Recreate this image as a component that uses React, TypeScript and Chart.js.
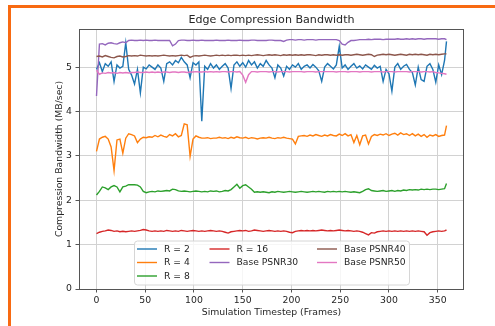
import { useEffect, useRef } from "react";
import { Chart, registerables } from "chart.js";

Chart.register(...registerables);

// Frame index for each sample (every 3rd frame, plus the last frame 359)
const frames: number[] = [...Array.from({ length: 120 }, (_, i) => i * 3), 359];

const r2: number[] = [
  4.95, 5.1, 4.9, 5.08, 5.02, 5.12, 4.68, 5.05, 4.98, 5.02,
  5.55, 4.95, 4.82, 4.62, 4.95, 4.42, 5.0, 4.96, 5.05, 5.0,
  4.95, 5.05, 4.98, 4.68, 5.08, 5.12, 5.05, 5.15, 5.1, 5.22,
  5.12, 5.05, 4.76, 5.1, 5.05, 5.12, 3.78, 5.02, 4.95, 5.08,
  4.98, 5.05, 4.95, 5.02, 5.08, 4.98, 4.52, 5.05, 5.12, 5.02,
  5.1, 5.0, 5.15, 5.05, 5.12, 4.98, 5.08, 5.02, 5.15, 5.05,
  4.98, 4.76, 5.05, 4.98, 4.8, 5.02, 4.95, 5.05, 5.0, 5.08,
  4.95, 5.02, 5.05, 4.98, 5.06, 5.0, 4.92, 4.68, 5.0, 5.08,
  5.02, 4.96, 5.05, 5.47, 4.98, 5.05, 4.95, 5.02, 5.08, 4.98,
  5.03, 4.96, 5.05, 5.0, 4.95, 5.04, 4.98, 5.02, 4.68, 4.95,
  4.85, 4.46, 5.0, 5.08, 4.95, 5.02, 5.06, 4.95, 4.88, 4.6,
  5.0, 4.72, 4.68, 5.02, 5.08, 4.95, 4.66, 5.05, 4.83, 5.15,
  5.58,
];

const r4: number[] = [
  3.1, 3.38, 3.42, 3.44, 3.38, 3.2, 2.67, 3.36, 3.38, 3.06,
  3.4, 3.5, 3.48, 3.45, 3.3, 3.38, 3.42, 3.41, 3.43, 3.42,
  3.46, 3.43, 3.47, 3.44, 3.42, 3.48, 3.45, 3.5, 3.43, 3.46,
  3.72, 3.7, 2.99, 3.38, 3.45, 3.42, 3.4, 3.4, 3.41, 3.39,
  3.4, 3.4, 3.42, 3.4, 3.41, 3.39, 3.42, 3.4, 3.43, 3.41,
  3.4, 3.42, 3.39, 3.41, 3.4, 3.38, 3.4, 3.41, 3.4, 3.42,
  3.4, 3.39, 3.41, 3.4, 3.42, 3.4, 3.39, 3.38, 3.27, 3.44,
  3.45, 3.46, 3.44, 3.47, 3.45, 3.48, 3.46, 3.44, 3.47, 3.45,
  3.48, 3.46, 3.45, 3.49, 3.46, 3.5, 3.45, 3.48, 3.3, 3.46,
  3.25, 3.45, 3.47, 3.27, 3.44, 3.48, 3.46, 3.49, 3.47, 3.5,
  3.46, 3.49, 3.51, 3.47, 3.52, 3.48, 3.5, 3.46, 3.5, 3.45,
  3.49, 3.44, 3.48, 3.42, 3.47, 3.45, 3.48, 3.44, 3.46, 3.47,
  3.68,
];

const r8: number[] = [
  2.12, 2.2, 2.3, 2.28, 2.24, 2.3, 2.33, 2.3, 2.19, 2.3,
  2.32, 2.35, 2.35, 2.35, 2.34, 2.3, 2.2, 2.17, 2.19, 2.2,
  2.19, 2.21, 2.2, 2.21, 2.22, 2.21, 2.25, 2.24, 2.21, 2.2,
  2.21, 2.2, 2.19, 2.2, 2.21, 2.2, 2.19, 2.2, 2.19, 2.21,
  2.2, 2.21, 2.19, 2.2, 2.22, 2.21, 2.24, 2.3, 2.36, 2.27,
  2.33, 2.35, 2.3, 2.25, 2.18, 2.19, 2.18, 2.19, 2.18, 2.17,
  2.19, 2.18, 2.2, 2.19, 2.18, 2.19, 2.2, 2.19, 2.18, 2.19,
  2.2, 2.19, 2.18, 2.19, 2.2, 2.19, 2.2, 2.19, 2.18, 2.2,
  2.19, 2.2, 2.19, 2.2, 2.19, 2.2, 2.19, 2.18, 2.19, 2.18,
  2.17, 2.2, 2.24, 2.26, 2.22, 2.21, 2.2, 2.21, 2.22, 2.2,
  2.21, 2.22, 2.2, 2.22, 2.21, 2.23, 2.22, 2.24, 2.23, 2.24,
  2.23, 2.25, 2.24, 2.25, 2.24, 2.25, 2.25, 2.24, 2.25, 2.26,
  2.38,
];

const r16: number[] = [
  1.25, 1.28, 1.3, 1.31, 1.33, 1.32, 1.3, 1.31, 1.29, 1.3,
  1.29, 1.3, 1.31, 1.3, 1.31, 1.32, 1.34, 1.33, 1.31, 1.3,
  1.31, 1.3, 1.31, 1.3, 1.32, 1.31, 1.3, 1.31, 1.3, 1.32,
  1.31, 1.3, 1.31, 1.32, 1.31, 1.3, 1.31, 1.3, 1.31, 1.32,
  1.31, 1.3, 1.31, 1.3, 1.28, 1.26, 1.29, 1.3, 1.31, 1.32,
  1.31, 1.32, 1.3, 1.31, 1.33, 1.32, 1.31, 1.3, 1.31, 1.32,
  1.31, 1.3, 1.31, 1.3, 1.31, 1.3, 1.28, 1.27, 1.3, 1.31,
  1.32, 1.31, 1.32, 1.31, 1.32, 1.31, 1.32, 1.33, 1.32, 1.31,
  1.32, 1.31, 1.32, 1.33, 1.32, 1.31, 1.32, 1.31, 1.3, 1.31,
  1.3, 1.28, 1.25, 1.22, 1.27, 1.26, 1.29, 1.3, 1.31, 1.3,
  1.31, 1.3, 1.31, 1.3, 1.31, 1.3, 1.31, 1.3, 1.31, 1.3,
  1.31, 1.3, 1.29, 1.21, 1.27, 1.29, 1.3, 1.31, 1.3, 1.31,
  1.33,
];

const psnr30: number[] = [
  4.35, 5.52, 5.53, 5.5, 5.54, 5.55, 5.53, 5.52, 5.55, 5.57,
  5.55, 5.6, 5.61, 5.6, 5.6, 5.61, 5.6, 5.61, 5.6, 5.6,
  5.61, 5.6, 5.6, 5.6, 5.6, 5.6, 5.48, 5.52, 5.6, 5.61,
  5.61, 5.6, 5.6, 5.61, 5.6, 5.6, 5.61, 5.6, 5.6, 5.6,
  5.6, 5.61, 5.6, 5.6, 5.6, 5.61, 5.6, 5.6, 5.6, 5.61,
  5.6, 5.6, 5.6, 5.61, 5.61, 5.6, 5.6, 5.6, 5.6, 5.61,
  5.61, 5.6, 5.6, 5.6, 5.58, 5.61, 5.62, 5.62, 5.61, 5.62,
  5.62, 5.61, 5.62, 5.62, 5.62, 5.61, 5.62, 5.62, 5.62, 5.62,
  5.62, 5.62, 5.62, 5.6, 5.52, 5.5, 5.56, 5.6, 5.6, 5.61,
  5.62, 5.62, 5.62, 5.63, 5.62, 5.63, 5.63, 5.63, 5.62, 5.63,
  5.63, 5.63, 5.63, 5.64, 5.63, 5.63, 5.64, 5.63, 5.64, 5.63,
  5.64, 5.64, 5.63, 5.64, 5.64, 5.64, 5.64, 5.63, 5.64, 5.64,
  5.62,
];

const psnr40: number[] = [
  5.24, 5.25, 5.23, 5.26, 5.24, 5.22, 5.21, 5.24, 5.25, 5.23,
  5.24, 5.26, 5.25, 5.26, 5.25, 5.27, 5.26, 5.25, 5.26, 5.25,
  5.26, 5.25, 5.26, 5.27, 5.26, 5.25, 5.26, 5.25, 5.26, 5.27,
  5.26, 5.27, 5.22, 5.25, 5.26, 5.25, 5.26, 5.27, 5.26, 5.25,
  5.26, 5.27, 5.26, 5.27, 5.26, 5.27, 5.26, 5.27, 5.27, 5.26,
  5.27, 5.26, 5.27, 5.26, 5.27, 5.28, 5.27, 5.26, 5.27, 5.28,
  5.27, 5.28, 5.27, 5.26, 5.28, 5.27, 5.28, 5.27, 5.28, 5.27,
  5.28, 5.27, 5.28, 5.28, 5.27, 5.26, 5.28, 5.27, 5.28, 5.28,
  5.27, 5.28, 5.27, 5.28, 5.27, 5.28, 5.28, 5.27, 5.28, 5.29,
  5.28, 5.27, 5.28, 5.29, 5.28, 5.24, 5.27, 5.28, 5.29, 5.28,
  5.29, 5.28, 5.27, 5.28, 5.29, 5.28, 5.27, 5.29, 5.28, 5.29,
  5.28, 5.29, 5.28, 5.27, 5.29, 5.28, 5.29, 5.28, 5.29, 5.3,
  5.3,
];

const psnr50: number[] = [
  4.93, 4.84, 4.87, 4.86, 4.88, 4.87, 4.88, 4.86, 4.88, 4.87,
  4.88, 4.87, 4.88, 4.88, 4.89, 4.88, 4.88, 4.89, 4.88, 4.89,
  4.88, 4.89, 4.88, 4.89, 4.89, 4.88, 4.89, 4.89, 4.88, 4.89,
  4.89, 4.88, 4.89, 4.89, 4.9, 4.89, 4.89, 4.9, 4.89, 4.9,
  4.89, 4.9, 4.89, 4.9, 4.9, 4.89, 4.9, 4.9, 4.89, 4.9,
  4.82, 4.66, 4.83, 4.9, 4.9, 4.89, 4.9, 4.9, 4.9, 4.89,
  4.9, 4.9, 4.89, 4.9, 4.9, 4.9, 4.89, 4.9, 4.9, 4.9,
  4.9, 4.89, 4.9, 4.9, 4.9, 4.89, 4.9, 4.9, 4.9, 4.9,
  4.9, 4.9, 4.89, 4.9, 4.9, 4.9, 4.89, 4.9, 4.9, 4.9,
  4.89, 4.9, 4.9, 4.9, 4.89, 4.9, 4.9, 4.9, 4.89, 4.9,
  4.9, 4.9, 4.89, 4.9, 4.9, 4.9, 4.9, 4.89, 4.9, 4.9,
  4.9, 4.89, 4.9, 4.9, 4.89, 4.9, 4.88, 4.87, 4.86, 4.85,
  4.84,
];

const seriesLabels = ["R = 2", "R = 4", "R = 8", "R = 16", "Base PSNR30", "Base PSNR40", "Base PSNR50"];
const seriesValues = [r2, r4, r8, r16, psnr30, psnr40, psnr50];
const seriesColors = ["#1f77b4", "#ff7f0e", "#2ca02c", "#d62728", "#9467bd", "#8c564b", "#e377c2"];

const titleText = "Edge Compression Bandwidth";
const xTitle = "Simulation Timestep (Frames)";
const yTitle = "Compression Bandwidth (MB/sec)";

const FONT = "'DejaVu Sans', Verdana, sans-serif";
const TEXT = "#262626";
const SPINE = "#555555";

const decorPlugin = {
  id: "decor",
  afterDatasetsDraw(chart: any) {
    const { ctx, chartArea: a } = chart;
    ctx.save();
    // frame
    ctx.strokeStyle = SPINE;
    ctx.lineWidth = 1;
    ctx.strokeRect(a.left + 0.5, a.top + 0.5, a.right - a.left - 1, a.bottom - a.top);
    // title
    ctx.fillStyle = TEXT;
    ctx.font = `11.1px ${FONT}`;
    ctx.textAlign = "center";
    ctx.textBaseline = "alphabetic";
    ctx.fillText(titleText, (a.left + a.right) / 2, a.top - 5.6);
    // x axis title
    ctx.font = `9.3px ${FONT}`;
    ctx.fillText(xTitle, (a.left + a.right) / 2, 315);
    // y axis title
    ctx.save();
    ctx.translate(62, (a.top + a.bottom) / 2);
    ctx.rotate(-Math.PI / 2);
    ctx.fillText(yTitle, 0, 0);
    ctx.restore();

    // legend (3 columns, matplotlib-style)
    const bx = 134.5, by = 241, bw = 275, bh = 44, r = 3;
    ctx.beginPath();
    ctx.moveTo(bx + r, by);
    ctx.lineTo(bx + bw - r, by);
    ctx.quadraticCurveTo(bx + bw, by, bx + bw, by + r);
    ctx.lineTo(bx + bw, by + bh - r);
    ctx.quadraticCurveTo(bx + bw, by + bh, bx + bw - r, by + bh);
    ctx.lineTo(bx + r, by + bh);
    ctx.quadraticCurveTo(bx, by + bh, bx, by + bh - r);
    ctx.lineTo(bx, by + r);
    ctx.quadraticCurveTo(bx, by, bx + r, by);
    ctx.closePath();
    ctx.fillStyle = "rgba(255,255,255,0.8)";
    ctx.fill();
    ctx.strokeStyle = "#d6d6d6";
    ctx.lineWidth = 1;
    ctx.stroke();

    const cols = [137, 209.5, 317];
    const rows = [249, 262.5, 276];
    const perCol = [3, 2, 2];
    let k = 0;
    ctx.font = `9.2px ${FONT}`;
    ctx.textAlign = "left";
    ctx.textBaseline = "middle";
    for (let c = 0; c < 3; c++) {
      for (let rr = 0; rr < perCol[c]; rr++) {
        const ds = chart.data.datasets[k];
        const y = rows[rr];
        ctx.strokeStyle = ds.borderColor;
        ctx.lineWidth = 1.4;
        ctx.beginPath();
        ctx.moveTo(cols[c], y);
        ctx.lineTo(cols[c] + 20, y);
        ctx.stroke();
        ctx.fillStyle = TEXT;
        ctx.fillText(ds.label, cols[c] + 27, y + 0.5);
        k++;
      }
    }
    ctx.restore();
  },
};

export default function App() {
  const ref = useRef<HTMLCanvasElement | null>(null);

  useEffect(() => {
    if (!ref.current) return;
    const chart = new Chart(ref.current, {
      type: "line",
      data: {
        datasets: seriesLabels.map((label, i) => ({
          label,
          data: frames.map((f, j) => ({ x: f, y: seriesValues[i][j] })),
          borderColor: seriesColors[i],
          backgroundColor: seriesColors[i],
          borderWidth: 1.4,
          pointRadius: 0,
          tension: 0,
          fill: false,
          order: seriesLabels.length - i,
        })),
      },
      options: {
        responsive: false,
        animation: false,
        devicePixelRatio: 1,
        layout: { padding: { top: 29, right: 31, left: 0, bottom: 0 } },
        plugins: {
          legend: { display: false },
          tooltip: { enabled: false },
          title: { display: false },
        },
        scales: {
          x: {
            type: "linear",
            min: -17.95,
            max: 376.95,
            afterFit: (s: any) => {
              s.height = 37;
            },
            border: { display: false },
            grid: {
              color: "#d2d2d2",
              lineWidth: 1,
              tickLength: 3.5,
              tickColor: SPINE,
              drawTicks: true,
            },
            ticks: {
              stepSize: 50,
              includeBounds: false,
              autoSkip: false,
              maxRotation: 0,
              padding: 2.5,
              color: TEXT,
              font: { family: FONT, size: 9.3 },
            },
          },
          y: {
            type: "linear",
            min: 0,
            max: 5.86,
            afterFit: (s: any) => {
              s.width = 79;
            },
            border: { display: false },
            grid: {
              color: "#d2d2d2",
              lineWidth: 1,
              tickLength: 3.5,
              tickColor: SPINE,
              drawTicks: true,
            },
            ticks: {
              stepSize: 1,
              includeBounds: false,
              padding: 3.5,
              color: TEXT,
              font: { family: FONT, size: 9.3 },
            },
          },
        },
      },
      plugins: [decorPlugin],
    } as any);
    return () => chart.destroy();
  }, []);

  return (
    <div style={{ position: "fixed", left: 0, top: 0, width: 495, height: 326, overflow: "hidden", background: "#fff" }}>
      <div
        style={{
          position: "absolute",
          left: 8,
          top: 5,
          width: 700,
          height: 500,
          borderLeft: "3px solid #f86a12",
          borderTop: "3px solid #f86a12",
          boxSizing: "border-box",
        }}
      />
      <canvas ref={ref} width={495} height={326} style={{ position: "absolute", left: 0, top: 0, width: 495, height: 326 }} />
    </div>
  );
}
